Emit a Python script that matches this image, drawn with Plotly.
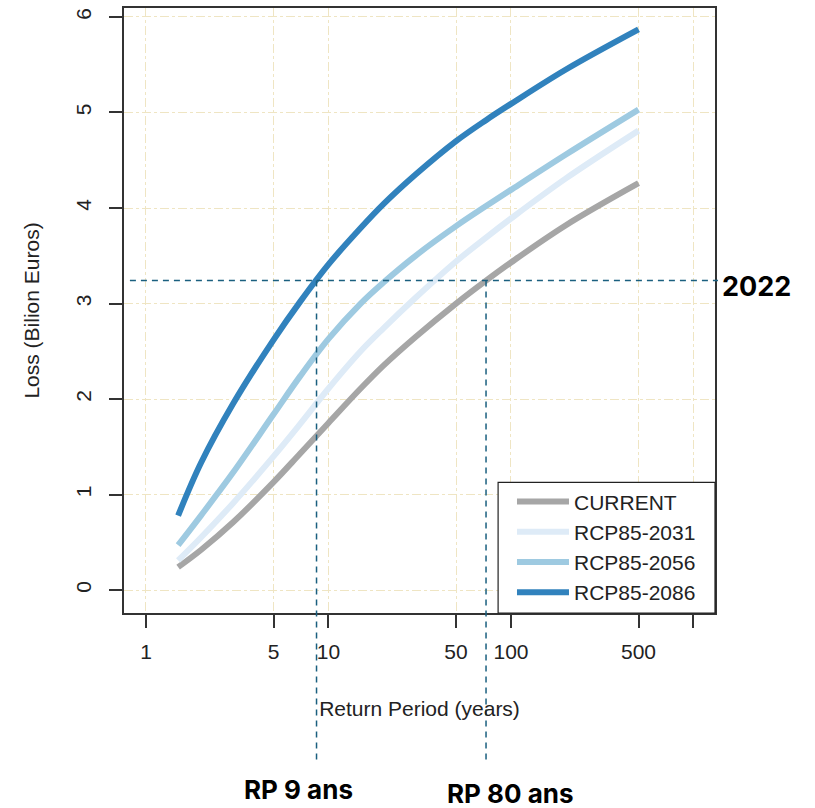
import math
import plotly.graph_objects as go

# ---- data ----
return_period = [1.5, 2, 3, 5, 7, 10, 15, 20, 30, 50, 73, 100, 200, 500]
current   = [0.24, 0.42, 0.71, 1.13, 1.43, 1.75, 2.11, 2.35, 2.65, 3.00, 3.24, 3.43, 3.82, 4.26]
rcp_2031  = [0.31, 0.55, 0.91, 1.40, 1.74, 2.11, 2.50, 2.74, 3.06, 3.44, 3.69, 3.89, 4.31, 4.81]
rcp_2056  = [0.47, 0.78, 1.23, 1.84, 2.24, 2.63, 3.00, 3.22, 3.50, 3.81, 4.02, 4.19, 4.56, 5.03]
rcp_2086  = [0.78, 1.33, 1.95, 2.62, 3.02, 3.41, 3.79, 4.04, 4.35, 4.70, 4.92, 5.09, 5.45, 5.87]

series_names = ["CURRENT", "RCP85-2031", "RCP85-2056", "RCP85-2086"]
series_vals = [current, rcp_2031, rcp_2056, rcp_2086]
series_colors = ["#a6a6a6", "#deebf7", "#9ecae1", "#3182bd"]

x_tickvals = [1, 5, 10, 50, 100, 500, 1000]
x_ticktext = ["1", "5", "10", "50", "100", "500", ""]
y_tickvals = [0, 1, 2, 3, 4, 5, 6]

threshold_2022 = 3.24
rp_crossings = [8.6, 73]
rp_labels = ["RP 9 ans", "RP 80 ans"]

x_range_log = [-0.1205, 3.118]
y_range = [-0.24, 6.094]

fig = go.Figure()
for name, vals, col in zip(series_names, series_vals, series_colors):
    fig.add_trace(go.Scatter(
        x=return_period, y=vals, mode="lines", name=name,
        line=dict(color=col, width=6, shape="spline", smoothing=1.0),
    ))

grid_col = "#efe5c3"
axis_font = dict(family="Liberation Sans, Arial", size=21, color="#222")

fig.update_xaxes(
    type="log", range=x_range_log, tickvals=x_tickvals, ticktext=x_ticktext,
    showline=True, linecolor="#333", linewidth=1.5, mirror=True,
    ticks="outside", ticklen=13, tickcolor="#333", tickwidth=1.5,
    showgrid=True, gridcolor=grid_col, griddash="dashdot", gridwidth=1,
    zeroline=False, tickfont=axis_font, ticklabelstandoff=6,
    title=dict(text="Return Period (years)", font=axis_font, standoff=39),
)
fig.update_yaxes(
    range=y_range, tickvals=y_tickvals, tickangle=-90,
    showline=True, linecolor="#333", linewidth=1.5, mirror=True,
    ticks="outside", ticklen=13, tickcolor="#333", tickwidth=1.5,
    showgrid=True, gridcolor=grid_col, griddash="dashdot", gridwidth=1,
    zeroline=False, tickfont=axis_font, ticklabelstandoff=10,
    title=dict(text="Loss (Bilion Euros)", font=axis_font, standoff=26),
)

dash_col = "#1a5f7f"
yp = (threshold_2022 - y_range[0]) / (y_range[1] - y_range[0])
fig.add_shape(type="line", xref="paper", yref="y", x0=0.01, x1=1.005,
              y0=threshold_2022, y1=threshold_2022,
              line=dict(color=dash_col, width=1.5, dash="6px,5px"))
for xv in rp_crossings:
    fig.add_shape(type="line", xref="x", yref="paper", x0=xv, x1=xv,
                  y0=yp, y1=-0.243,
                  line=dict(color=dash_col, width=1.5, dash="6px,5px"))

# legend frame (R-style box in the bottom-right corner)
fig.add_shape(type="rect", xref="paper", yref="paper", x0=0.633, x1=1.0, y0=0, y1=0.216,
              line=dict(color="#222", width=1.2), fillcolor="white", layer="above")

bold_font = dict(family="Inter, Roboto, Liberation Sans", size=27, color="black")
fig.add_annotation(text="<b>2022</b>", xref="paper", yref="y", x=1.008, xanchor="left",
                   y=threshold_2022, yshift=-6, showarrow=False, font=bold_font)
label_shift = [-18, 24]
label_y = [-0.292, -0.298]
for xv, lab, dx, ly in zip(rp_crossings, rp_labels, label_shift, label_y):
    fig.add_annotation(text=f"<b>{lab}</b>", xref="x", yref="paper", x=math.log10(xv),
                       xshift=dx, y=ly, yanchor="middle", showarrow=False,
                       font=dict(bold_font, size=26), xanchor="center")

fig.update_layout(
    width=815, height=808,
    margin=dict(l=124, r=100, t=6, b=195),
    plot_bgcolor="white", paper_bgcolor="white",
    showlegend=True,
    legend=dict(x=0.6565, y=0.1087, xanchor="left", yanchor="middle",
                borderwidth=0, bgcolor="rgba(0,0,0,0)",
                font=dict(family="Liberation Sans, Arial", size=21, color="#222"),
                itemwidth=52),
)

fig.write_html("out.html", config={"displayModeBar": False},
               post_script="document.body.style.margin='0px';")
